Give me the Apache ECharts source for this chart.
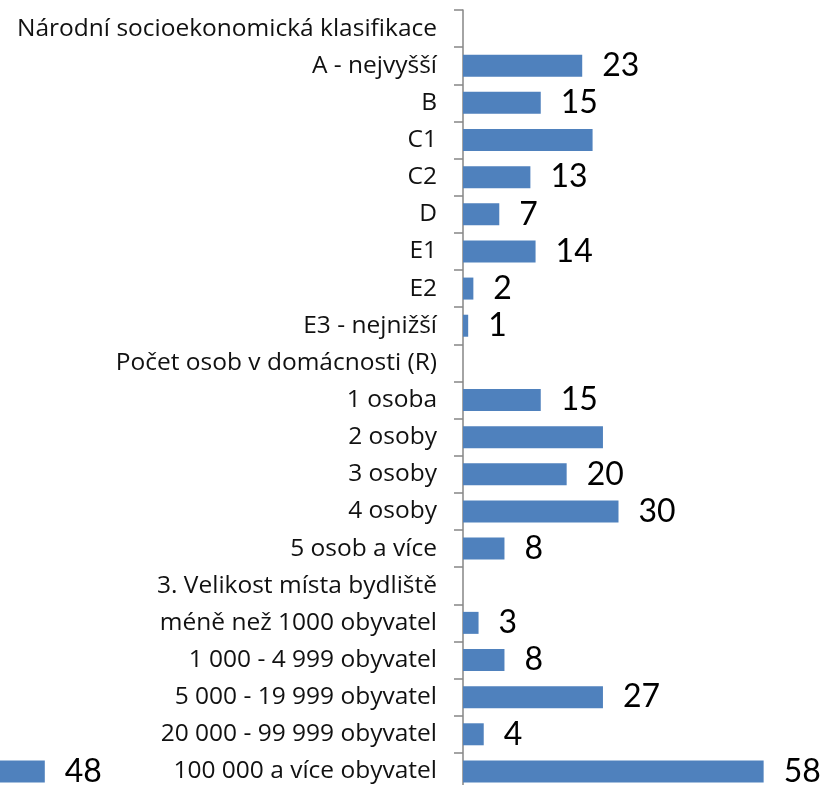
<!DOCTYPE html>
<html>
<head>
<meta charset="utf-8">
<script src="https://cdn.jsdelivr.net/npm/echarts@6.0.0/dist/echarts.min.js"></script>
<style>
  html, body { margin: 0; padding: 0; background: #fff; }
  #chart { width: 825px; height: 785px; }
</style>
</head>
<body>
<div id="chart"></div>
<script>
const categories = [
  "Národní socioekonomická klasifikace",
  "A - nejvyšší",
  "B",
  "C1",
  "C2",
  "D",
  "E1",
  "E2",
  "E3 - nejnižší",
  "Počet osob v domácnosti (R)",
  "1 osoba",
  "2 osoby",
  "3 osoby",
  "4 osoby",
  "5 osob a více",
  "3. Velikost místa bydliště",
  "méně než 1000 obyvatel",
  "1 000 - 4 999 obyvatel",
  "5 000 - 19 999 obyvatel",
  "20 000 - 99 999 obyvatel",
  "100 000 a více obyvatel"
];
const values = ["-", 23, 15, 25, 13, 7, 14, 2, 1, "-", 15, 27, 20, 30, 8, "-", 3, 8, 27, 4, 58];
// rows whose value label is not printed in the original
const unlabeled = [3, 11];
// piece of a neighbouring chart cut off at the bottom-left edge
const fragmentValues = ["-", "-", "-", "-", "-", "-", "-", "-", "-", "-", "-", "-", "-", "-", "-", "-", "-", "-", "-", "-", 48];

const barColor = "#4F81BD";
const valueLabel = {
  show: true,
  position: "right",
  distance: 20,
  color: "#000",
  fontFamily: "Lato",
  fontSize: 32
};

const chart = echarts.init(document.getElementById("chart"));

chart.setOption({
  animation: false,
  grid: [
    { left: 463, top: 10, width: 311, height: 780, outerBoundsMode: "none" },
    { left: -204, top: 10, width: 311, height: 780, outerBoundsMode: "none" }
  ],
  xAxis: [
    { gridIndex: 0, type: "value", min: 0, max: 60, show: false },
    { gridIndex: 1, type: "value", min: 0, max: 60, show: false }
  ],
  yAxis: [
    {
      gridIndex: 0,
      type: "category",
      inverse: true,
      data: categories,
      axisLine: { show: true, lineStyle: { color: "#868686", width: 1.5 } },
      axisTick: { show: true, length: 9, lineStyle: { color: "#868686", width: 1.5 } },
      axisLabel: {
        margin: 26,
        color: "#111",
        fontFamily: "Open Sans",
        fontSize: 24.5
      },
      splitLine: { show: false }
    },
    {
      gridIndex: 1,
      type: "category",
      inverse: true,
      data: categories,
      show: false
    }
  ],
  series: [
    {
      type: "bar",
      xAxisIndex: 0,
      yAxisIndex: 0,
      barWidth: 22,
      itemStyle: { color: barColor },
      label: valueLabel,
      data: values.map((v, i) =>
        unlabeled.includes(i) ? { value: v, label: { show: false } } : v
      )
    },
    {
      type: "bar",
      xAxisIndex: 1,
      yAxisIndex: 1,
      barWidth: 22,
      itemStyle: { color: barColor },
      label: valueLabel,
      data: fragmentValues
    }
  ]
});

window.addEventListener("resize", () => chart.resize());
</script>
</body>
</html>
